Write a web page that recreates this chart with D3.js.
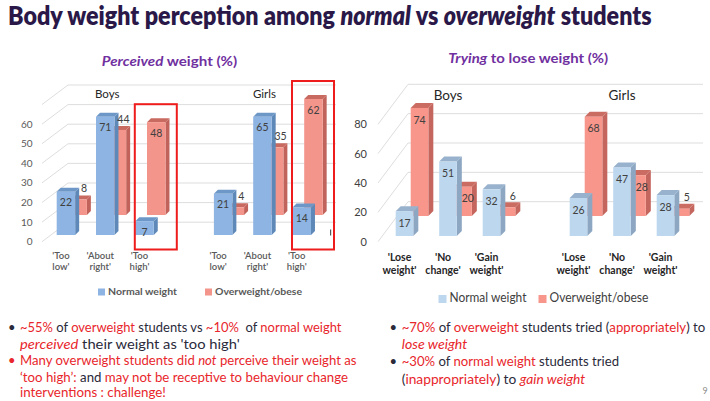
<!DOCTYPE html>
<html>
<head>
<meta charset="utf-8">
<title>Body weight perception among normal vs overweight students</title>
<script src="https://d3js.org/d3.v7.min.js"></script>
<style>
  body { margin: 0; background: #fff; }
  svg { display: block; font-family: Lato, "Open Sans", sans-serif; }
  text { white-space: pre; }
</style>
</head>
<body>
<svg id="slide" width="710" height="401"></svg>
<script>
// ---- data ----
const groups = ["Boys", "Girls"];
const seriesNames = ["Normal weight", "Overweight/obese"];

const perceivedCategories = [["'Too", "low'"], ["'About", "right'"], ["'Too", "high'"]];
const perceivedNormalBoys = [22, 71, 7];
const perceivedNormalGirls = [21, 65, 14];
const perceivedOverBoys = [8, 44, 48];
const perceivedOverGirls = [4, 35, 62];
const perceivedTicks = [0, 10, 20, 30, 40, 50, 60];
const perceivedGrid = [0, 10, 20, 30, 40, 50, 60, 70];

const tryingCategories = [["'Lose", "weight'"], ["'No", "change'"], ["'Gain", "weight'"]];
const tryingNormalBoys = [17, 51, 32];
const tryingNormalGirls = [26, 47, 28];
const tryingOverBoys = [74, 20, 6];
const tryingOverGirls = [68, 28, 5];
const tryingTicks = [0, 20, 40, 60, 80];

const RED = "#e8262b";
const DARK = "#2a2a3a";

const svg = d3.select("#slide");

// squeeze a text horizontally to a given width (keeps its height)
function fitWidth(sel, x, y, len) {
  const natural = sel.node().getComputedTextLength();
  const sx = natural > 0 ? len / natural : 1;
  sel.attr("x", 0).attr("y", 0)
    .attr("transform", `translate(${x},${y}) scale(${sx},1)`);
  return sel;
}

// one row per slot, with an empty slot between boys and girls
function buildRows(normal, over) {
  const rows = [];
  groups.forEach((g, gi) => {
    normal[gi].forEach((v, ci) => {
      rows.push({ group: g, ci, key: g + "-" + ci, normal: v, over: over[gi][ci] });
    });
  });
  return rows;
}
function slotDomain() {
  const keys = [];
  groups.forEach((g, gi) => {
    if (gi > 0) keys.push("gap" + gi);
    [0, 1, 2].forEach(ci => keys.push(g + "-" + ci));
  });
  return keys;
}

function drawBar(g, x, top, base, w, d, c) {
  g.append("polygon")
    .attr("points", [[x + w, top], [x + w + d, top - d], [x + w + d, base - d], [x + w, base]].join(" "))
    .attr("fill", c.side);
  g.append("polygon")
    .attr("points", [[x, top], [x + d, top - d], [x + w + d, top - d], [x + w, top]].join(" "))
    .attr("fill", c.top);
  g.append("rect")
    .attr("x", x).attr("y", top)
    .attr("width", w).attr("height", base - top)
    .attr("fill", c.front);
}

function drawChart(o) {
  const g = svg.append("g");
  const rows = buildRows(o.normal, o.over);
  const x = d3.scaleBand().domain(slotDomain()).range(o.xRange);
  const w = x.step() * o.barFrac;

  // gridlines: floor diagonal then back wall
  o.grid.forEach(v => {
    const y0 = o.yAxis(v);
    g.append("path")
      .attr("d", `M${o.gx0},${y0}L${o.gx0 + o.gdx},${y0 + o.gdy}L${o.gxEnd},${y0 + o.gdy}`)
      .attr("fill", "none").attr("stroke", "#d9d9d9").attr("stroke-width", 0.9);
  });

  // axis labels
  g.selectAll(".tick").data(o.ticks).join("text")
    .attr("x", o.tickX).attr("y", d => o.yAxis(d)).attr("dy", "0.35em")
    .attr("text-anchor", "end").attr("font-size", o.tickSize).attr("fill", o.tickColor)
    .text(d => d);

  // back series (overweight)
  rows.forEach(r => {
    const bx = x(r.key) + o.backDx;
    drawBar(g, bx, o.yBack(r.over), o.yBack(0), w, o.depth, o.redC);
  });
  // front series (normal)
  rows.forEach(r => {
    drawBar(g, x(r.key), o.yFront(r.normal), o.yFront(0), w, o.depth, o.blueC);
  });

  // value labels
  const lab = g.append("g").attr("font-size", o.valueSize).attr("fill", "#404040").attr("text-anchor", "middle");
  rows.forEach(r => {
    const bx = x(r.key), rx = bx + o.backDx;
    const rTop = o.yBack(r.over);
    if (o.overOutside(r)) {
      lab.append("text").attr("x", rx + w * 0.85).attr("y", rTop - 11).attr("dy", "0.35em").text(r.over);
    } else {
      let cx = rx + w / 2;
      if (r.normal > r.over) cx = (bx + w + o.depth + rx + w) / 2 + 1;
      lab.append("text").attr("x", cx).attr("y", rTop + o.inset).attr("dy", "0.35em").text(r.over);
    }
    lab.append("text").attr("x", bx + w / 2).attr("y", o.yFront(r.normal) + o.inset)
      .attr("dy", "0.35em").text(r.normal);
  });

  // category labels
  rows.forEach(r => {
    const t = g.append("text").attr("text-anchor", "middle")
      .attr("font-size", o.catSize).attr("font-weight", o.catWeight).attr("fill", o.catColor);
    o.categories[r.ci].forEach((line, i) => {
      t.append("tspan").attr("x", x(r.key) + w / 2 - 5).attr("y", o.catY + i * o.catLine).text(line);
    });
  });

  // group labels
  groups.forEach(gr => {
    const k0 = gr + "-0", k2 = gr + "-2";
    g.append("text")
      .attr("x", (x(k0) + x(k2) + w) / 2 + o.groupDx).attr("y", o.groupY)
      .attr("text-anchor", "middle").attr("font-size", o.groupSize).attr("fill", "#262626")
      .text(gr);
  });

  // legend
  const cols = [o.blueC.front, o.redC.front];
  seriesNames.forEach((s, i) => {
    const lx = o.legendX[i];
    g.append("rect").attr("x", lx).attr("y", o.legendY - o.sw / 2 - 3)
      .attr("width", o.sw).attr("height", o.sw).attr("fill", cols[i]);
    const t = g.append("text")
      .attr("font-size", o.legendSize).attr("font-weight", o.legendWeight)
      .attr("fill", o.legendColor).text(s);
    fitWidth(t, lx + o.sw + 3, o.legendY, o.legendLen[i]);
  });

  return { g, x, w, rows };
}

// ---- left chart: perceived weight ----
const leftBack = d3.scaleLinear([0, 60], [215, 99]).clamp(true);
const left = drawChart({
  normal: [perceivedNormalBoys, perceivedNormalGirls],
  over: [perceivedOverBoys, perceivedOverGirls],
  categories: perceivedCategories,
  xRange: [56.7, 56.7 + 7 * 39.3],
  barFrac: 0.47,
  backDx: 11.7,
  depth: 4,
  yAxis: d3.scaleLinear([0, 70], [241.7, 104.5]),
  yFront: d3.scaleLinear([0, 60], [235, 116.8]).clamp(true),
  yBack: leftBack,
  grid: perceivedGrid, ticks: perceivedTicks,
  gx0: 42, gdx: 26, gdy: -19.5, gxEnd: 336,
  tickX: 32.5, tickSize: 10, tickColor: "#595959",
  blueC: { front: "#8db4e2", side: "#5e88b8", top: "#6d97c7" },
  redC: { front: "#f4958b", side: "#c1635b", top: "#c96a61" },
  valueSize: 10.5, inset: 11,
  overOutside: r => r.over < r.normal,
  catY: 258.5, catLine: 11.7, catSize: 9.5, catWeight: 600, catColor: "#595959",
  groupY: 97.5, groupSize: 11.5, groupDx: 2,
  legendX: [98, 205], legendY: 295, sw: 7,
  legendSize: 10, legendWeight: 700, legendColor: "#595959", legendLen: [69, 87]
});

// highlight boxes around the 'too high' pairs
groups.forEach(gr => {
  const k = gr + "-2";
  const r = left.rows.find(d => d.key === k);
  const top = leftBack(r.over) - 4 - 14;
  left.g.append("rect")
    .attr("x", left.x(k) - 0.5).attr("y", top)
    .attr("width", 42).attr("height", 249.5 - top)
    .attr("fill", "none").attr("stroke", "#ee1c1c").attr("stroke-width", 2);
});
// small stray mark beside the girls box
left.g.append("rect").attr("x", 330).attr("y", 229.5).attr("width", 1.2).attr("height", 6).attr("fill", "#595959");

// ---- right chart: trying to lose weight ----
drawChart({
  normal: [tryingNormalBoys, tryingNormalGirls],
  over: [tryingOverBoys, tryingOverGirls],
  categories: tryingCategories,
  xRange: [395.7, 395.7 + 7 * 43.5],
  barFrac: 0.405,
  backDx: 15,
  depth: 5,
  yAxis: d3.scaleLinear([0, 80], [241.7, 124.3]),
  yFront: d3.scaleLinear([0, 80], [236, 119.2]),
  yBack: d3.scaleLinear([0, 80], [216, 99.2]),
  grid: tryingTicks, ticks: tryingTicks,
  gx0: 378, gdx: 30, gdy: -40, gxEnd: 703,
  tickX: 367, tickSize: 11, tickColor: "#404040",
  blueC: { front: "#bdd7ee", side: "#8da7c3", top: "#98b2cd" },
  redC: { front: "#f8968b", side: "#c4665e", top: "#cb6c63" },
  valueSize: 10.5, inset: 12,
  overOutside: r => r.over < 10,
  catY: 260.5, catLine: 13.3, catSize: 10.5, catWeight: 700, catColor: "#262626",
  groupY: 100, groupSize: 13.5, groupDx: 0,
  legendX: [438.5, 538.5], legendY: 302, sw: 8,
  legendSize: 12.5, legendWeight: 400, legendColor: "#404040", legendLen: [77, 99]
});

// ---- titles ----
function richLine(x, y, runs, len, size, weight) {
  const t = svg.append("text")
    .attr("font-size", size).attr("font-weight", weight || 400);
  runs.forEach(r => {
    t.append("tspan").attr("fill", r[1]).attr("font-style", r[2] ? "italic" : "normal").text(r[0]);
  });
  if (len) fitWidth(t, x, y, len);
  else t.attr("x", x).attr("y", y);
  return t;
}

const NAVY = "#2a1848";
richLine(8, 25, [
  ["Body weight perception among ", NAVY], ["normal", NAVY, 1], [" vs ", NAVY],
  ["overweight", NAVY, 1], [" students", NAVY]
], 644, 26, 800);

const PURPLE = "#7030a0";
richLine(101.7, 66, [["Perceived", PURPLE, 1], [" weight (%)", PURPLE]], 135.7, 14, 700);
richLine(448.3, 63, [["Trying", PURPLE, 1], [" to lose weight (%)", PURPLE]], 160, 14, 700);

// ---- bullets ----
const leftBullets = [
  { y: 332, bullet: DARK, len: 321.7, runs: [["~55%", RED], [" of ", DARK], ["overweight", RED], [" students vs ", DARK], ["~10%", RED], ["  of ", DARK], ["normal weight", RED]] },
  { y: 348.5, len: 220, runs: [["perceived", RED, 1], [" their weight as 'too high'", DARK]] },
  { y: 365, bullet: RED, len: 336.7, runs: [["Many overweight students did ", RED], ["not", RED, 1], [" perceive their weight as", RED]] },
  { y: 381.7, len: 328.3, runs: [["\u2018too high\u2019: ", RED], ["and", DARK], [" may not be receptive to behaviour change", RED]] },
  { y: 397.3, len: 146, runs: [["interventions : challenge!", RED]] }
];
const rightBullets = [
  { y: 332, bullet: DARK, len: 303.3, runs: [["~70%", RED], [" of ", DARK], ["overweight", RED], [" students tried (", DARK], ["appropriately", RED], [") to", DARK]] },
  { y: 348.5, len: 65.6, runs: [["lose weight", RED, 1]] },
  { y: 366, bullet: DARK, len: 217.6, runs: [["~30%", RED], [" of ", DARK], ["normal weight", RED], [" students tried", DARK]] },
  { y: 383.5, len: 183.3, runs: [["(", DARK], ["inappropriately", RED], [") to ", DARK], ["gain weight", RED, 1]] }
];

function drawBullets(list, bx, tx) {
  list.forEach(b => {
    if (b.bullet) {
      svg.append("text").attr("x", bx).attr("y", b.y).attr("font-size", 13)
        .attr("text-anchor", "middle").attr("fill", b.bullet).text("\u2022");
    }
    richLine(tx, b.y, b.runs, b.len, 13.5, 400);
  });
}
drawBullets(leftBullets, 11.7, 20);
drawBullets(rightBullets, 393.3, 401.7);

// page number
svg.append("text").attr("x", 705).attr("y", 394).attr("text-anchor", "middle")
  .attr("font-size", 9).attr("fill", "#8c8c8c").text("9");
</script>
</body>
</html>
